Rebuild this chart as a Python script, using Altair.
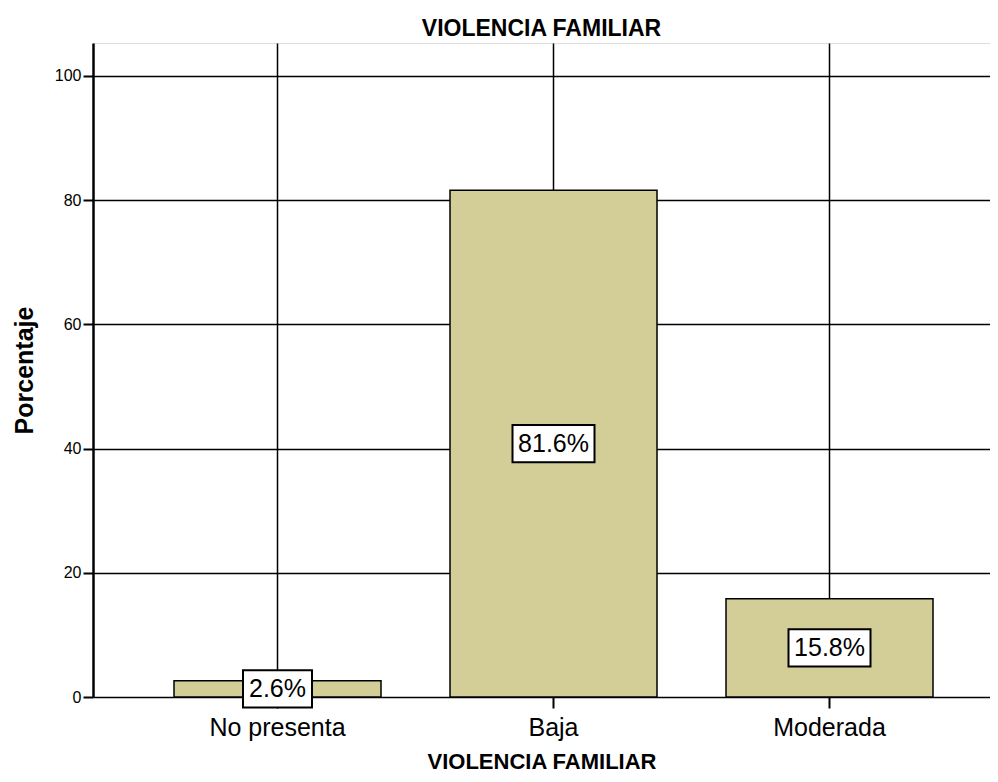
import altair as alt
import pandas as pd

categories = ["No presenta", "Baja", "Moderada"]
percentages = [2.6, 81.6, 15.8]
labels = ["2.6%", "81.6%", "15.8%"]
y_ticks = [0, 20, 40, 60, 80, 100]

df = pd.DataFrame({"cat": categories, "pct": percentages, "label": labels})

FONT = "Liberation Sans"
W, H = 897, 654
Y_MAX = 105.3
BOX_HALF = 3.0  # half height of the label box, in axis units

xscale = alt.Scale(domain=categories, paddingInner=0.25, paddingOuter=0.25, align=0.587)
yscale = alt.Scale(domain=[0, Y_MAX], nice=False, zero=True)

x_axis = alt.Axis(
    title="VIOLENCIA FAMILIAR",
    labelAngle=0,
    labelFontSize=25,
    labelFont=FONT,
    labelColor="black",
    labelPadding=7,
    tickSize=11,
    tickWidth=2,
    tickColor="black",
    domain=False,
    grid=True,
    gridColor="black",
    gridWidth=1.5,
    gridOpacity=1,
    titleFont=FONT,
    titleFontSize=22,
    titleFontWeight="bold",
    titleColor="black",
    titlePadding=11,
)
y_axis = alt.Axis(
    title="Porcentaje",
    values=y_ticks,
    labelFontSize=16,
    labelFont=FONT,
    labelColor="black",
    labelPadding=2,
    tickSize=10,
    tickWidth=2,
    tickColor="black",
    domainColor="black",
    domainWidth=2.5,
    grid=True,
    gridColor="black",
    gridWidth=1.5,
    gridOpacity=1,
    titleFont=FONT,
    titleFontSize=25,
    titleFontWeight="bold",
    titleColor="black",
    titlePadding=17,
)

x_enc = alt.X("cat:N", scale=xscale, sort=categories, axis=x_axis)

bars = alt.Chart(df).mark_bar(fill="#d3ce97", stroke="black", strokeWidth=1.5).encode(
    x=x_enc,
    y=alt.Y("pct:Q", scale=yscale, axis=y_axis),
)

base = alt.Chart(df).transform_calculate(
    mid="datum.pct / 2",
    lo=f"datum.pct / 2 - {BOX_HALF}",
    hi=f"datum.pct / 2 + {BOX_HALF}",
    w="length(datum.label) * 13 + 17",
)

boxes = base.mark_bar(fill="white", stroke="black", strokeWidth=2).encode(
    x=x_enc,
    y=alt.Y("lo:Q", scale=yscale),
    y2="hi:Q",
    size=alt.Size("w:Q", scale=None, legend=None),
)

texts = base.mark_text(font=FONT, fontSize=25, color="black", baseline="middle", align="center").encode(
    x=x_enc,
    y=alt.Y("mid:Q", scale=yscale),
    text="label:N",
)

chart = alt.layer(bars, boxes, texts).properties(
    width=W,
    height=H,
    title=alt.TitleParams(
        "VIOLENCIA FAMILIAR",
        font=FONT,
        fontSize=23,
        fontWeight="bold",
        color="black",
        anchor="middle",
        offset=2,
    ),
    autosize=alt.AutoSizeParams(type="none"),
    padding={"left": 85, "top": 35, "right": 0, "bottom": 76},
).configure_view(stroke="black", strokeWidth=2.5).configure(background="white")

chart.save("out.html", embed_options={"renderer": "svg", "actions": False})
